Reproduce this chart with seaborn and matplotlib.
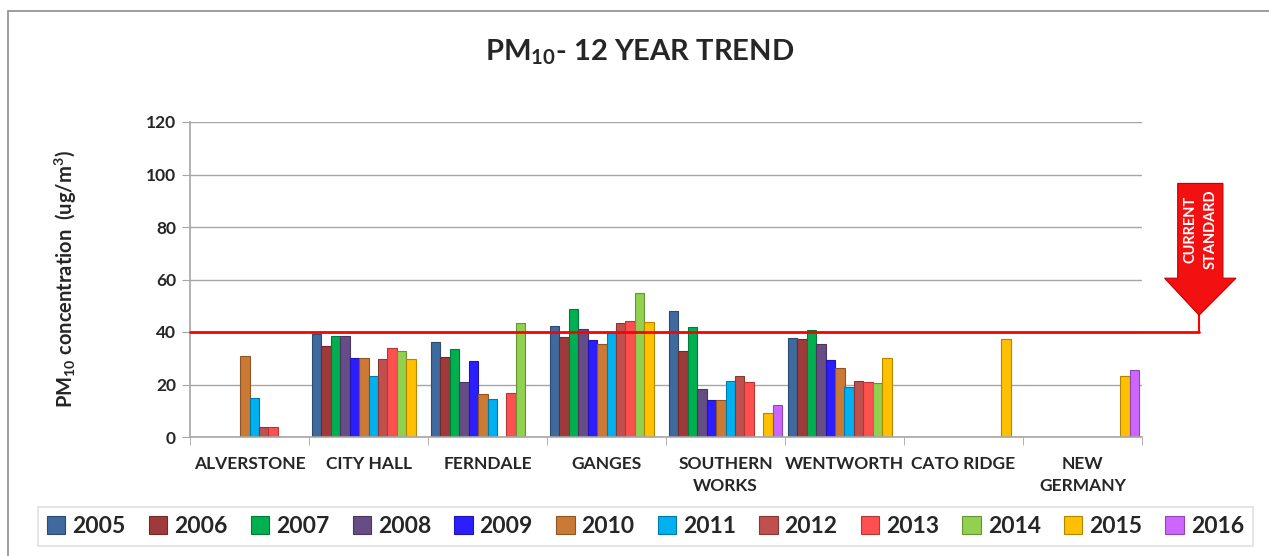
import numpy as np
import pandas as pd
import matplotlib.pyplot as plt
import seaborn as sns
from matplotlib.patches import Polygon, Rectangle
from matplotlib.colors import to_rgb

sites = ['ALVERSTONE', 'CITY HALL', 'FERNDALE', 'GANGES', 'SOUTHERN\nWORKS',
         'WENTWORTH', 'CATO RIDGE', 'NEW\nGERMANY']
years = ['2005', '2006', '2007', '2008', '2009', '2010', '2011', '2012',
         '2013', '2014', '2015', '2016']
nan = np.nan
# annual means per site, one list per year (NaN = no data)
y2005 = [nan, 39.2, 36.2, 42.4, 48.1, 37.8, nan, nan]
y2006 = [nan, 34.7, 30.6, 38.2, 32.7, 37.3, nan, nan]
y2007 = [nan, 38.6, 33.6, 48.6, 42.0, 40.8, nan, nan]
y2008 = [nan, 38.6, 20.8, 41.2, 18.2, 35.6, nan, nan]
y2009 = [nan, 30.1, 29.0, 36.9, 14.0, 29.2, nan, nan]
y2010 = [30.8, 30.1, 16.4, 35.4, 14.0, 26.3, nan, nan]
y2011 = [14.7, 23.2, 14.4, 39.5, 21.5, 19.0, nan, nan]
y2012 = [3.8, 29.7, nan, 43.3, 23.2, 21.2, nan, nan]
y2013 = [3.8, 34.0, 16.9, 44.2, 20.8, 20.8, nan, nan]
y2014 = [nan, 32.7, 43.3, 54.7, nan, 20.5, nan, nan]
y2015 = [nan, 29.7, nan, 43.8, 9.1, 30.1, 37.3, 23.3]
y2016 = [nan, nan, nan, nan, 12.1, nan, nan, 25.6]
standard = 40

colors = ['#3F6A9E', '#9E3B3A', '#00B050', '#674D85', '#2B1EFF', '#CB7A36',
          '#00B0F0', '#C0504D', '#FF5050', '#92D050', '#FFC000', '#CC66FF']

series = [y2005, y2006, y2007, y2008, y2009, y2010, y2011, y2012,
          y2013, y2014, y2015, y2016]
rows = []
for yr, vals in zip(years, series):
    for s, v in zip(sites, vals):
        rows.append({'Site': s, 'Year': yr, 'PM10': v})
df = pd.DataFrame(rows)

sns.set_style('white')
plt.rcParams['font.family'] = ['Lato', 'DejaVu Sans']
plt.rcParams['mathtext.fontset'] = 'custom'
plt.rcParams['mathtext.rm'] = 'Lato:bold'
plt.rcParams['mathtext.it'] = 'Lato:bold'
plt.rcParams['mathtext.bf'] = 'Lato:bold'
plt.rcParams['mathtext.default'] = 'rm'

fig = plt.figure(figsize=(12.69, 5.56), dpi=100)
ax = fig.add_axes([190 / 1269, 1 - 437 / 556, (1142 - 190) / 1269, (437 - 122) / 556])

sns.barplot(data=df, x='Site', y='PM10', hue='Year', order=sites, hue_order=years,
            palette=colors, width=0.95, gap=0, ax=ax, legend=False, saturation=1)

for p in ax.patches:
    fc = np.array(to_rgb(p.get_facecolor()))
    p.set_edgecolor(fc * 0.7)
    p.set_linewidth(0.8)

ax.set_xlim(-0.5, 7.5)
ax.set_ylim(0, 120)
ax.set_yticks(range(0, 121, 20))
ax.set_yticklabels([str(v) for v in range(0, 121, 20)], fontsize=12.5, fontweight='bold')
ax.set_xticks(range(len(sites)))
ax.set_xticklabels(sites, fontsize=12.5, fontweight='bold', linespacing=1.4)
ax.set_xticks(np.arange(-0.5, 8, 1), minor=True)
ax.tick_params(axis='x', which='major', length=0, pad=14)
ax.tick_params(axis='x', which='minor', length=6, color='#A6A6A6', direction='out', bottom=True)
ax.tick_params(axis='y', length=6, color='#A6A6A6', left=True, pad=4)
ax.grid(axis='y', color='#A6A6A6', linewidth=1)
ax.set_axisbelow(True)
for side in ['top', 'right']:
    ax.spines[side].set_visible(False)
ax.spines['left'].set_color('#A6A6A6')
ax.spines['bottom'].set_color('#A6A6A6')
ax.spines['left'].set_linewidth(1.2)
ax.spines['bottom'].set_linewidth(1.2)
ax.set_xlabel('')
ax.set_ylabel('PM$_{10}$ concentration  (ug/m$^3$)', fontsize=14.5, fontweight='bold', labelpad=48)

# current standard line with its arrow outside the plot
xr = 7.98
ax.plot([-0.5, xr], [standard, standard], color='#FF0000', lw=2, clip_on=False, zorder=5)
ax.plot([xr, xr], [standard, 46.4], color='#FF0000', lw=1.5, clip_on=False, zorder=5)
arrow = Polygon([[7.8, 96.6], [8.18, 96.6], [8.18, 60.5], [8.29, 60.5],
                 [xr, 46.4], [7.69, 60.5], [7.8, 60.5]],
                closed=True, facecolor='#F21010', edgecolor='#C00000', lw=0.8,
                clip_on=False, zorder=6)
ax.add_patch(arrow)
ax.text(7.905, 79, 'CURRENT', rotation=90, color='white', fontsize=10.5, fontweight='bold',
        ha='center', va='center', zorder=7, clip_on=False)
ax.text(8.08, 79, 'STANDARD', rotation=90, color='white', fontsize=10.5, fontweight='bold',
        ha='center', va='center', zorder=7, clip_on=False)

fig.text(640 / 1269, 1 - 52 / 556, 'PM$_{10}$- 12 YEAR TREND', ha='center', va='center',
         fontsize=21, fontweight='bold')

# outer frame and legend
fig.patches.append(Rectangle((8 / 1269, -0.05), 1.1, 1.05 - 11 / 556, transform=fig.transFigure,
                             fill=False, edgecolor='#8C8C8C', lw=1.2))
handles = [Rectangle((0, 0), 1, 1, facecolor=c, edgecolor=np.array(to_rgb(c)) * 0.7, lw=0.8)
           for c in colors]
leg = fig.legend(handles, years, loc='center', ncol=12,
                 bbox_to_anchor=(38 / 1269, 1 - 547 / 556, (1253 - 38) / 1269, 41 / 556),
                 mode='expand', prop={'weight': 'bold', 'size': 16.5}, frameon=True,
                 fancybox=False, edgecolor='#D9D9D9', handlelength=0.8, handleheight=0.8,
                 handletextpad=0.3, borderaxespad=0, columnspacing=1.0, borderpad=0.4)
leg.get_frame().set_linewidth(1.2)

fig.savefig('out.png', dpi=100)
